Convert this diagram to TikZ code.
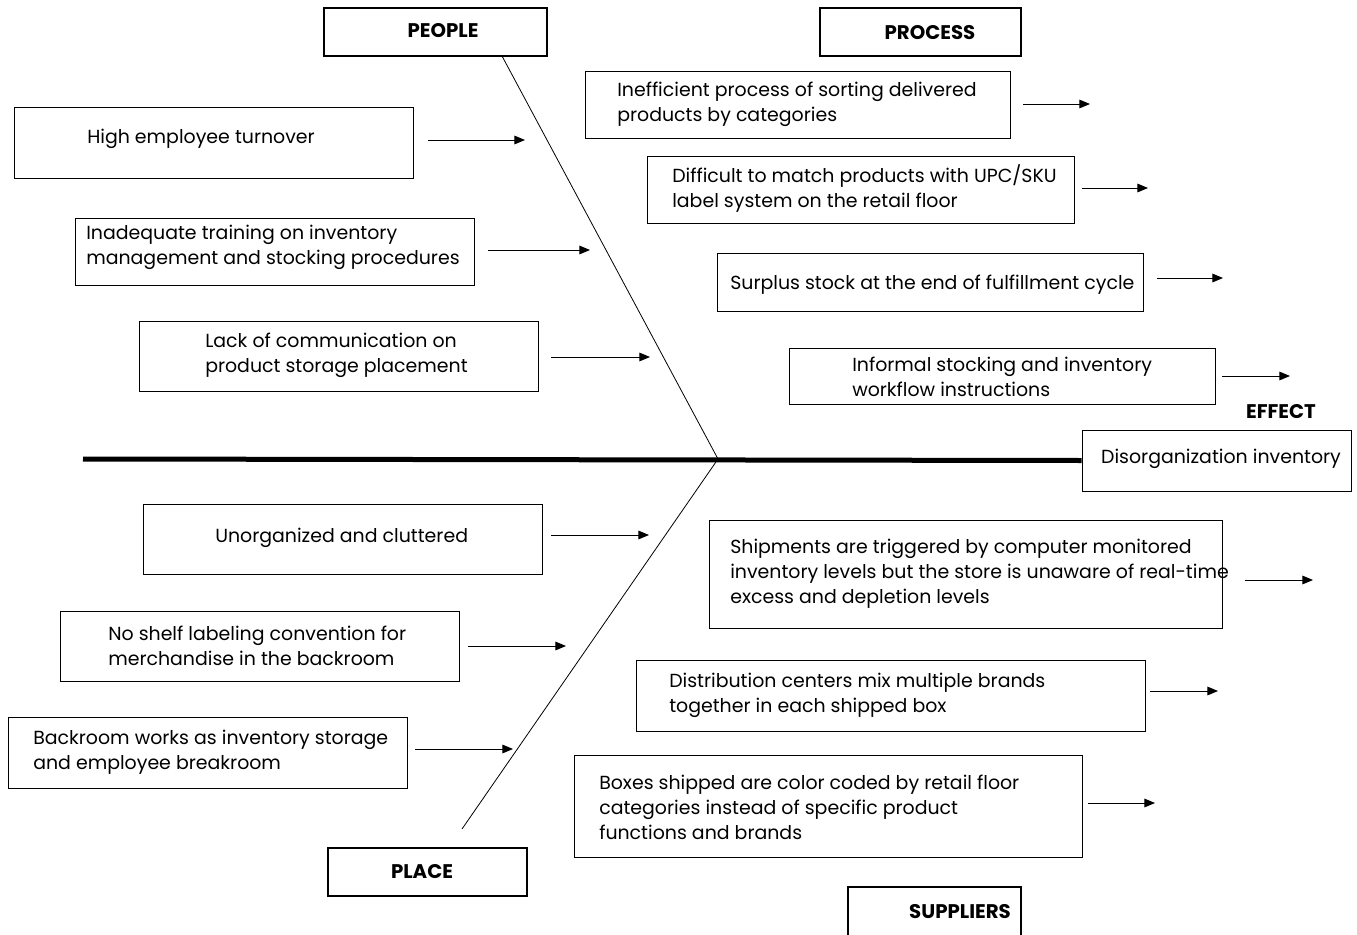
\documentclass[tikz,border=0pt]{standalone}
\usepackage{fontspec}
\setmainfont{Poppins}
\newfontfamily\headfont{Poppins}
\usetikzlibrary{arrows.meta,fit}
\begin{document}
\begin{tikzpicture}[x=0.75pt,y=-0.75pt,
  cbox/.style={draw, line width=0.75pt, inner sep=0pt},
  hbox/.style={draw, line width=1.5pt, inner sep=0pt},
  txt/.style={anchor=west, align=left, inner sep=0pt, font=\fontsize{14.2}{18.75}\selectfont},
  ctxt/.style={inner sep=0pt, font=\fontsize{14.2}{18.75}\selectfont},
  htxt/.style={inner sep=0pt, font=\headfont\bfseries\fontsize{14.8}{16}\selectfont},
  arr/.style={line width=0.75pt, -{Triangle[length=8pt,width=6.5pt]}},
  bone/.style={line width=0.6pt},
  spine/.style={line width=3.75pt}
]
\useasboundingbox (0,0) rectangle (1357,935);

% head boxes
\node[hbox, fit={(324,8) (547,56)}] (people) {};
\node[htxt] (peoplet) at (443,31) {PEOPLE};
\node[hbox, fit={(820,8) (1021,56)}] (process) {};
\node[htxt] (processt) at (930,33) {PROCESS};
\node[hbox, fit={(328,848) (527,896)}] (place) {};
\node[htxt] (placet) at (422,872) {PLACE};
\node[hbox, fit={(848,887) (1021,945)}] (suppliers) {};
\node[htxt] (supplierst) at (960,912) {SUPPLIERS};

% effect
\node[htxt] (effectt) at (1281,412) {EFFECT};
\node[cbox, fit={(1082,430) (1351,491)}] (eff) {};
\node[ctxt] (efft) at (1221,459) {Disorganization inventory};

% spine and bones
\coordinate (tail) at (83,459);
\coordinate (head) at (718,459);
\coordinate (pp) at (502,56);
\coordinate (pl) at (462,829);
\draw[spine] (tail) -- (eff.west);
\draw[bone] (pp) -- (head) -- (pl);

% causes
\node[cbox, fit={(14,107) (413,178)}] (b1) {};
\node[txt] (t1) at (87,139) {High employee turnover};
\coordinate (a1s) at (428,140); \coordinate (a1e) at (525,140);
\draw[arr] (a1s) -- (a1e);

\node[cbox, fit={(75,218) (474,285)}] (b2) {};
\node[txt] (t2) at (86,247) {Inadequate training on inventory\\management and stocking procedures};
\coordinate (a2s) at (488,250); \coordinate (a2e) at (590,250);
\draw[arr] (a2s) -- (a2e);

\node[cbox, fit={(139,321) (538,391)}] (b3) {};
\node[txt] (t3) at (205,355) {Lack of communication on\\product storage placement};
\coordinate (a3s) at (551,357); \coordinate (a3e) at (650,357);
\draw[arr] (a3s) -- (a3e);

\node[cbox, fit={(585,71) (1010,138)}] (b4) {};
\node[txt] (t4) at (617,104) {Inefficient process of sorting delivered\\products by categories};
\coordinate (a4s) at (1023,104); \coordinate (a4e) at (1090,104);
\draw[arr] (a4s) -- (a4e);

\node[cbox, fit={(647,156) (1074,223)}] (b5) {};
\node[txt] (t5) at (672,189) {Difficult to match products with UPC/SKU\\label system on the retail floor};
\coordinate (a5s) at (1082,188); \coordinate (a5e) at (1148,188);
\draw[arr] (a5s) -- (a5e);

\node[cbox, fit={(717,253) (1143,311)}] (b6) {};
\node[txt] (t6) at (730,285) {Surplus stock at the end of fulfillment cycle};
\coordinate (a6s) at (1157,278); \coordinate (a6e) at (1223,278);
\draw[arr] (a6s) -- (a6e);

\node[cbox, fit={(789,348) (1215,404)}] (b7) {};
\node[txt] (t7) at (852,377) {Informal stocking and inventory\\workflow instructions};
\coordinate (a7s) at (1222,376); \coordinate (a7e) at (1290,376);
\draw[arr] (a7s) -- (a7e);

\node[cbox, fit={(143,504) (542,574)}] (b8) {};
\node[txt] (t8) at (215,538) {Unorganized and cluttered};
\coordinate (a8s) at (551,535); \coordinate (a8e) at (649,535);
\draw[arr] (a8s) -- (a8e);

\node[cbox, fit={(60,611) (459,681)}] (b9) {};
\node[txt] (t9) at (108,646) {No shelf labeling convention for\\merchandise in the backroom};
\coordinate (a9s) at (468,646); \coordinate (a9e) at (566,646);
\draw[arr] (a9s) -- (a9e);

\node[cbox, fit={(8,717) (407,788)}] (b10) {};
\node[txt] (t10) at (33,752) {Backroom works as inventory storage\\and employee breakroom};
\coordinate (a10s) at (415,749); \coordinate (a10e) at (513,749);
\draw[arr] (a10s) -- (a10e);

\node[cbox, fit={(709,520) (1222,628)}] (b11) {};
\node[txt] (t11) at (730,574) {Shipments are triggered by computer monitored\\inventory levels but the store is unaware of real-time\\excess and depletion levels};
\coordinate (a11s) at (1245,580); \coordinate (a11e) at (1313,580);
\draw[arr] (a11s) -- (a11e);

\node[cbox, fit={(636,660) (1145,731)}] (b12) {};
\node[txt] (t12) at (669,695) {Distribution centers mix multiple brands\\together in each shipped box};
\coordinate (a12s) at (1150,691); \coordinate (a12e) at (1218,691);
\draw[arr] (a12s) -- (a12e);

\node[cbox, fit={(574,755) (1082,857)}] (b13) {};
\node[txt] (t13) at (599,807) {Boxes shipped are color coded by retail floor\\categories instead of specific product\\functions and brands};
\coordinate (a13s) at (1088,803); \coordinate (a13e) at (1155,803);
\draw[arr] (a13s) -- (a13e);
\end{tikzpicture}
\end{document}
